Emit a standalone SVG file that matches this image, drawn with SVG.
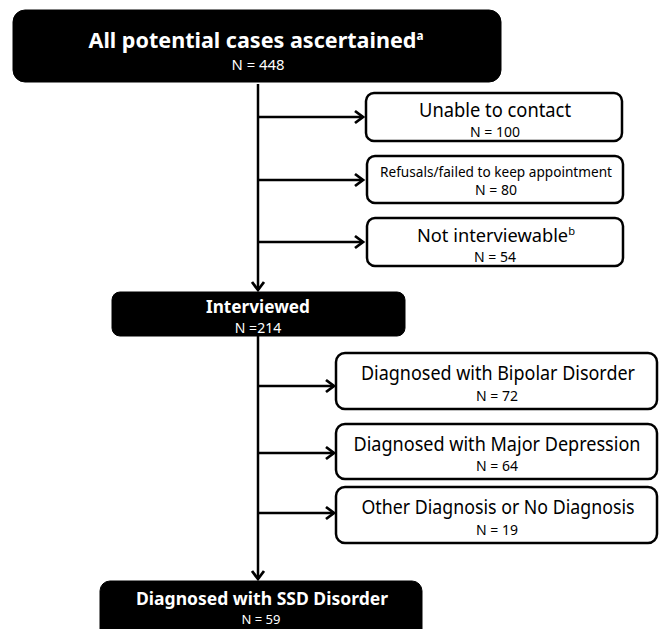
<svg xmlns="http://www.w3.org/2000/svg" width="660" height="629" viewBox="0 0 660 629">
<style>
.dark{fill:#000;stroke:#000;}
.light{fill:#fff;stroke:#000;stroke-width:2.5;}
.t{font-family:"Noto Sans","Open Sans","Liberation Sans",sans-serif;text-anchor:middle;}
.w{fill:#fff;}
.k{fill:#000;}
.b{font-weight:bold;}
.conn{stroke:#000;stroke-width:2.5;fill:none;}
</style>
<defs>
<marker id="arr" markerUnits="userSpaceOnUse" markerWidth="14" markerHeight="16" refX="10" refY="7" orient="auto" viewBox="0 0 14 14">
<path d="M2,1 L10,7 L2,13" fill="none" stroke="#000" stroke-width="2.8"/>
</marker>
</defs>
<rect width="660" height="629" fill="#fff"/>
<g id="connectors">
<line class="conn" x1="258" y1="84" x2="258" y2="290" marker-end="url(#arr)"/>
<line class="conn" x1="258" y1="117" x2="363" y2="117" marker-end="url(#arr)"/>
<line class="conn" x1="258" y1="180" x2="363" y2="180" marker-end="url(#arr)"/>
<line class="conn" x1="258" y1="242" x2="363" y2="242" marker-end="url(#arr)"/>
<line class="conn" x1="258" y1="336" x2="258" y2="579" marker-end="url(#arr)"/>
<line class="conn" x1="258" y1="386" x2="334" y2="386" marker-end="url(#arr)"/>
<line class="conn" x1="258" y1="453" x2="334" y2="453" marker-end="url(#arr)"/>
<line class="conn" x1="258" y1="513" x2="334" y2="513" marker-end="url(#arr)"/>
</g>
<g id="all-cases">
<rect class="dark" x="13" y="10" width="488" height="72" rx="12"/>
<text class="t w b" x="256" y="48" font-size="22" textLength="335" lengthAdjust="spacingAndGlyphs">All potential cases ascertained<tspan font-size="12" dy="-8">a</tspan></text>
<text class="t w" x="258" y="70" font-size="14" textLength="53" lengthAdjust="spacingAndGlyphs">N = 448</text>
</g>
<g id="unable">
<rect class="light" x="366" y="93" width="256" height="48" rx="8"/>
<text class="t k" x="495" y="117" font-size="19" textLength="152" lengthAdjust="spacingAndGlyphs">Unable to contact</text>
<text class="t k" x="495" y="137" font-size="14">N = 100</text>
</g>
<g id="refusals">
<rect class="light" x="367" y="156" width="256" height="47" rx="8"/>
<text class="t k" x="496" y="177" font-size="13.5" textLength="232" lengthAdjust="spacingAndGlyphs">Refusals/failed to keep appointment</text>
<text class="t k" x="496" y="195" font-size="14">N = 80</text>
</g>
<g id="not-interviewable">
<rect class="light" x="367" y="218" width="256" height="48" rx="8"/>
<text class="t k" x="496" y="242" font-size="18" textLength="158" lengthAdjust="spacingAndGlyphs">Not interviewable<tspan font-size="11" dy="-7">b</tspan></text>
<text class="t k" x="495" y="262" font-size="14">N = 54</text>
</g>
<g id="interviewed">
<rect class="dark" x="112" y="292" width="293" height="44" rx="8"/>
<text class="t w b" x="258" y="313" font-size="17" textLength="104" lengthAdjust="spacingAndGlyphs">Interviewed</text>
<text class="t w" x="258" y="333" font-size="14">N =214</text>
</g>
<g id="bipolar">
<rect class="light" x="336" y="353" width="321" height="56" rx="9"/>
<text class="t k" x="498" y="380" font-size="19" textLength="274" lengthAdjust="spacingAndGlyphs">Diagnosed with Bipolar Disorder</text>
<text class="t k" x="497" y="401" font-size="14">N = 72</text>
</g>
<g id="major-depression">
<rect class="light" x="336" y="424" width="321" height="55" rx="9"/>
<text class="t k" x="497" y="451" font-size="19" textLength="287" lengthAdjust="spacingAndGlyphs">Diagnosed with Major Depression</text>
<text class="t k" x="497" y="471" font-size="14">N = 64</text>
</g>
<g id="other">
<rect class="light" x="336" y="487" width="321" height="56" rx="9"/>
<text class="t k" x="498" y="514" font-size="19" textLength="273" lengthAdjust="spacingAndGlyphs">Other Diagnosis or No Diagnosis</text>
<text class="t k" x="497" y="535" font-size="14">N = 19</text>
</g>
<g id="ssd">
<rect class="dark" x="100" y="581" width="322" height="62" rx="10"/>
<text class="t w b" x="262" y="605" font-size="18" textLength="252" lengthAdjust="spacingAndGlyphs">Diagnosed with SSD Disorder</text>
<text class="t w" x="261" y="624" font-size="13">N = 59</text>
</g>
</svg>
